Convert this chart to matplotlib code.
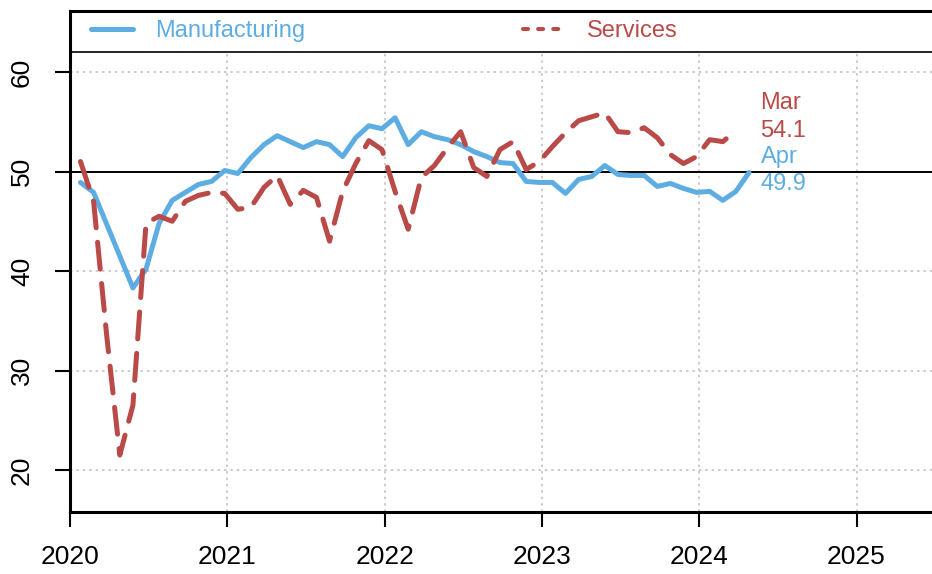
import numpy as np
import matplotlib
matplotlib.use("Agg")
import matplotlib.pyplot as plt
from matplotlib.lines import Line2D

plt.rcParams['font.family'] = ['Liberation Sans', 'DejaVu Sans']

# ---- data (monthly, starting Jan 2020) ----
start_year = 2020
manufacturing = [
    48.9, 47.9, 44.7, 41.5, 38.3, 40.2, 44.8, 47.1, 47.9, 48.7, 49.0, 50.1,
    49.8, 51.4, 52.7, 53.6, 53.0, 52.4, 53.0, 52.7, 51.5, 53.4, 54.6, 54.3,
    55.4, 52.7, 54.0, 53.5, 53.2, 52.7, 52.0, 51.5, 50.9, 50.8, 49.0, 48.9,
    48.9, 47.8, 49.2, 49.5, 50.6, 49.7, 49.6, 49.6, 48.5, 48.8, 48.3, 47.9,
    48.0, 47.1, 48.0, 49.9,
]
services = [
    51.0, 47.0, 33.5, 21.5, 26.5, 44.8, 45.5, 45.0, 47.0, 47.6, 47.9, 47.8,
    46.2, 46.4, 48.4, 49.6, 46.7, 48.1, 47.4, 43.0, 48.0, 50.8, 53.1, 52.2,
    48.0, 44.2, 49.4, 50.6, 52.4, 54.0, 50.4, 49.5, 52.2, 53.0, 50.2, 51.0,
    52.5, 53.9, 55.1, 55.5, 55.9, 54.0, 53.9, 54.4, 53.4, 51.7, 50.8, 51.5,
    53.2, 53.0, 54.1,
]
series_names = ["Manufacturing", "Services"]
last_labels = ["Apr", "Mar"]
year_ticks = [2020, 2021, 2022, 2023, 2024, 2025]
y_ticks = [20, 30, 40, 50, 60]
grid_y = [20, 30, 40, 60]

blue = '#5DADE2'
red = '#B94A48'
grey = '#BDBDBD'

def month_pos(n):
    # position of each monthly observation (late in the month)
    return start_year + (np.arange(n) + 0.8) / 12.0

x_m = month_pos(len(manufacturing))
x_s = month_pos(len(services))

W, H = 932, 574
fig = plt.figure(figsize=(W / 100, H / 100), dpi=100)
left_px, right_px, top_px, bot_px = 70, 932, 11, 512
ax = fig.add_axes([left_px / W, 1 - bot_px / H, (right_px - left_px) / W, (bot_px - top_px) / H])

px_per_year = 157.3
px_per_unit = 9.95
ax.set_xlim(2020, 2020 + (right_px - left_px) / px_per_year)
y_bottom = 50 - (bot_px - 171.5) / px_per_unit
y_top = 50 + (171.5 - top_px) / px_per_unit
ax.set_ylim(y_bottom, y_top)
sep_y = 50 + (171.5 - 51.5) / px_per_unit

# grid
ax.vlines(year_ticks, y_bottom, sep_y, colors=grey, linewidth=1.1,
          linestyles=(0, (1.6, 2.6)), zorder=1)
ax.hlines(grid_y, 2020, 2026, colors=grey, linewidth=1.1,
          linestyles=(0, (1.6, 2.6)), zorder=1)
ax.axhline(50, color='black', linewidth=1.4, zorder=2)
ax.axhline(sep_y, color='black', linewidth=1.2, zorder=2)

# series
ax.plot(x_m, manufacturing, color=blue, linewidth=3.6,
        solid_capstyle='round', solid_joinstyle='round', zorder=3)
ax.plot(x_s, services, color=red, linewidth=3.6,
        linestyle=(0, (5.4, 2.9)), dash_capstyle='round',
        dash_joinstyle='round', zorder=4)

# end labels
ax.annotate(f"{last_labels[1]}\n{services[-1]:.1f}", xy=(x_s[-1], services[-1]),
            xytext=(17.5, 9.8), textcoords='offset points', color=red,
            fontsize=17, va='center', ha='left', linespacing=1.33)
ax.annotate(f"{last_labels[0]}\n{manufacturing[-1]:.1f}", xy=(x_m[-1], manufacturing[-1]),
            xytext=(8.5, 1.4), textcoords='offset points', color=blue,
            fontsize=17, va='center', ha='left', linespacing=1.33)

# legend
handles = [
    Line2D([], [], color=blue, linewidth=3.6, solid_capstyle='round'),
    Line2D([], [], color=red, linewidth=2.9, linestyle=(0, (1.25, 2.5)),
           dash_capstyle='round'),
]
ax.legend(handles, series_names, ncol=2, frameon=False, loc='center left',
          bbox_to_anchor=((91 - left_px) / (right_px - left_px), (bot_px - 31) / (bot_px - top_px)),
          borderpad=0, borderaxespad=0, handlelength=1.78, handletextpad=0.95,
          columnspacing=9.2, fontsize=17, labelcolor=[blue, red])

# axes styling
for s in ['left', 'bottom', 'top']:
    ax.spines[s].set_linewidth(2.2)
ax.spines['right'].set_visible(False)
ax.set_xticks(year_ticks)
ax.set_xticklabels([str(y) for y in year_ticks])
ax.set_yticks(y_ticks)
ax.set_yticklabels([str(v) for v in y_ticks], rotation=90, va='center')
ax.tick_params(axis='both', direction='out', length=11, width=1.5, labelsize=19)
ax.tick_params(axis='x', pad=13)
ax.tick_params(axis='y', pad=15)

fig.savefig('out.png', dpi=100)
